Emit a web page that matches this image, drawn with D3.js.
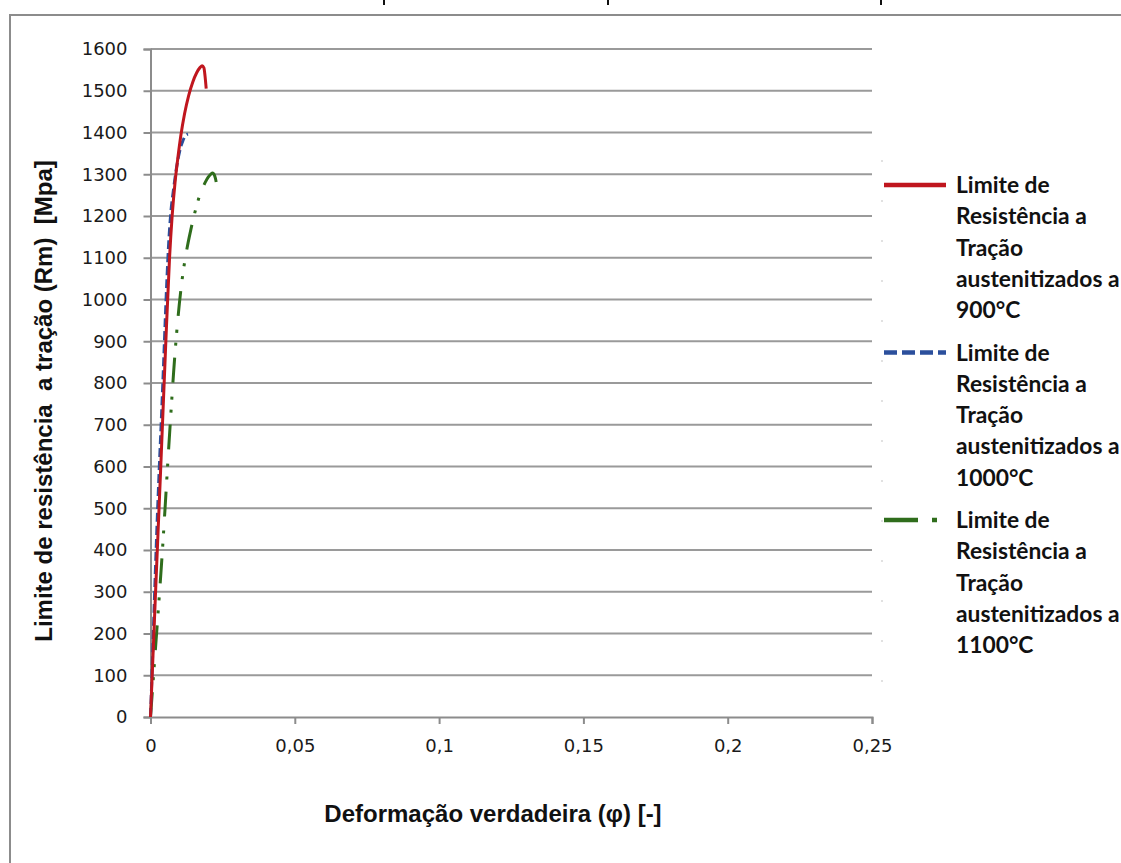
<!DOCTYPE html>
<html>
<head>
<meta charset="utf-8">
<script src="https://cdn.jsdelivr.net/npm/d3@7"></script>
<style>
  html, body { margin: 0; padding: 0; background: #fff; }
  svg { display: block; }
  .pre { white-space: pre; }
</style>
</head>
<body>
<svg id="chart" width="1121" height="863"></svg>
<script>
// True strain (φ) and tensile strength (MPa) for each austenitizing temperature
const strain900  = [0, 0.0017, 0.0035, 0.0052, 0.0066, 0.0075, 0.0085, 0.0095, 0.0105, 0.0118, 0.0132, 0.0146, 0.0160, 0.0172, 0.0179, 0.0185, 0.0189, 0.0193];
const stress900  = [0, 290, 590, 880, 1100, 1200, 1280, 1340, 1392, 1445, 1488, 1520, 1543, 1556, 1560, 1555, 1535, 1505];

const strain1000 = [0, 0.0006, 0.0013, 0.0021, 0.0030, 0.0038, 0.0045, 0.0051, 0.0057, 0.0063, 0.0070, 0.0080, 0.0090, 0.0101, 0.0112, 0.0122, 0.0130];
const stress1000 = [0, 120, 270, 430, 590, 720, 840, 950, 1050, 1135, 1205, 1265, 1315, 1355, 1380, 1393, 1396];

const strain1100 = [0, 0.001, 0.002, 0.003, 0.004, 0.005, 0.006, 0.007, 0.008, 0.009, 0.010, 0.011, 0.012, 0.013, 0.014, 0.015, 0.016, 0.017, 0.018, 0.019, 0.020, 0.021, 0.0215, 0.022, 0.0225, 0.023];
const stress1100 = [0, 95, 190, 285, 385, 495, 610, 720, 825, 915, 990, 1050, 1097, 1135, 1168, 1198, 1225, 1248, 1266, 1281, 1293, 1301, 1303, 1300, 1290, 1272];

const yTicks = [0, 100, 200, 300, 400, 500, 600, 700, 800, 900, 1000, 1100, 1200, 1300, 1400, 1500, 1600];
const xTicks = [0, 0.05, 0.1, 0.15, 0.2, 0.25];
const xTickLabels = ["0", "0,05", "0,1", "0,15", "0,2", "0,25"];

const seriesNames = ["900°C", "1000°C", "1100°C"];
const legendLines = ["Limite de", "Resistência a", "Tração", "austenitizados a"];

const xTitle = "Deformação verdadeira (φ) [-]";
const yTitle = "Limite de resistência  a tração (Rm)  [Mpa]";

const series = [
  { name: seriesNames[0], x: strain900,  y: stress900,  color: "#c0161e", dash: null,              legendDash: null },
  { name: seriesNames[1], x: strain1000, y: stress1000, color: "#2b4f9c", dash: "9,4",             legendDash: "13,5" },
  { name: seriesNames[2], x: strain1100, y: stress1100, color: "#2f6d1c", dash: "25,12,3,10,3,14", legendDash: "34,14,5,30" }
];

const svg = d3.select("#chart");

// Outer chart frame
svg.append("path")
  .attr("d", "M10,880 L10,15 L1140,15")
  .attr("fill", "none")
  .attr("stroke", "#8c8c8c")
  .attr("stroke-width", 2);

// Small strokes at the top edge
svg.append("g").selectAll("line")
  .data([384, 608, 881])
  .join("line")
  .attr("x1", d => d).attr("x2", d => d)
  .attr("y1", 0).attr("y2", 5)
  .attr("stroke", "#111").attr("stroke-width", 2);

const x = d3.scaleLinear().domain([0, 0.25]).range([150.5, 872]);
const y = d3.scaleLinear().domain([0, 1600]).range([717, 49]);

// Horizontal gridlines
svg.append("g")
  .selectAll("line")
  .data(yTicks.filter(d => d > 0))
  .join("line")
  .attr("x1", x(0)).attr("x2", x(0.25))
  .attr("y1", d => y(d)).attr("y2", d => y(d))
  .attr("stroke", "#9a9a9a")
  .attr("stroke-width", 2);

// Faint dotted line at the right of the plot area
svg.append("line")
  .attr("x1", 882).attr("x2", 882)
  .attr("y1", 160).attr("y2", 705)
  .attr("stroke", "#d8d8d8")
  .attr("stroke-width", 1.5)
  .attr("stroke-dasharray", "2,38");

const tickFont = "DejaVu Sans, Verdana, sans-serif";

// Y axis
const yAxis = d3.axisLeft(y).tickValues(yTicks).tickSize(7).tickPadding(16).tickFormat(d3.format("d"));
const gy = svg.append("g").attr("transform", `translate(${x(0)},0)`).call(yAxis);
gy.select(".domain").attr("stroke", "#8c8c8c").attr("stroke-width", 2);
gy.selectAll(".tick line").attr("stroke", "#8c8c8c").attr("stroke-width", 2);
gy.selectAll(".tick text")
  .attr("font-family", tickFont)
  .attr("font-size", 18)
  .attr("fill", "#1a1a1a");

// X axis
const xAxis = d3.axisBottom(x).tickValues(xTicks).tickSize(7).tickPadding(15)
  .tickFormat((d, i) => xTickLabels[i]);
const gx = svg.append("g").attr("transform", `translate(0,${y(0)})`).call(xAxis);
gx.select(".domain").attr("stroke", "#8c8c8c").attr("stroke-width", 2);
gx.selectAll(".tick line").attr("stroke", "#8c8c8c").attr("stroke-width", 2);
gx.selectAll(".tick text")
  .attr("font-family", tickFont)
  .attr("font-size", 18)
  .attr("fill", "#1a1a1a");

// Curves
const line = d3.line()
  .x(d => x(d[0]))
  .y(d => y(d[1]))
  .curve(d3.curveMonotoneX);

svg.append("g")
  .selectAll("path")
  .data(series.slice().reverse())
  .join("path")
  .attr("d", s => line(s.x.map((v, i) => [v, s.y[i]])))
  .attr("fill", "none")
  .attr("stroke", s => s.color)
  .attr("stroke-width", 3)
  .attr("stroke-dasharray", s => s.dash);

// Axis titles
svg.append("text")
  .attr("x", 493).attr("y", 822)
  .attr("text-anchor", "middle")
  .attr("font-family", "Liberation Sans, Arial, sans-serif")
  .attr("font-weight", "bold")
  .attr("font-size", 24)
  .attr("fill", "#111")
  .text(xTitle);

svg.append("text")
  .attr("class", "pre")
  .attr("transform", "translate(52,401) rotate(-90)")
  .attr("text-anchor", "middle")
  .attr("font-family", "Liberation Sans, Arial, sans-serif")
  .attr("font-weight", "bold")
  .attr("font-size", 24)
  .attr("fill", "#111")
  .text(yTitle);

// Legend
const legendTop = [185, 352.5, 520];
const lineGap = 31.25;
const legend = svg.append("g");
series.forEach((s, i) => {
  const g = legend.append("g").attr("transform", `translate(0,${legendTop[i]})`);
  g.append("line")
    .attr("x1", 884).attr("x2", 946)
    .attr("y1", 0).attr("y2", 0)
    .attr("stroke", s.color)
    .attr("stroke-width", 4.5)
    .attr("stroke-dasharray", s.legendDash);
  const lines = legendLines.concat([s.name]);
  g.selectAll("text")
    .data(lines)
    .join("text")
    .attr("x", 956)
    .attr("y", (d, k) => k * lineGap)
    .attr("dy", "0.36em")
    .attr("font-family", "Lato, Carlito, sans-serif")
    .attr("font-weight", "bold")
    .attr("font-size", 22.8)
    .attr("fill", "#111")
    .text(d => d);
});
</script>
</body>
</html>
